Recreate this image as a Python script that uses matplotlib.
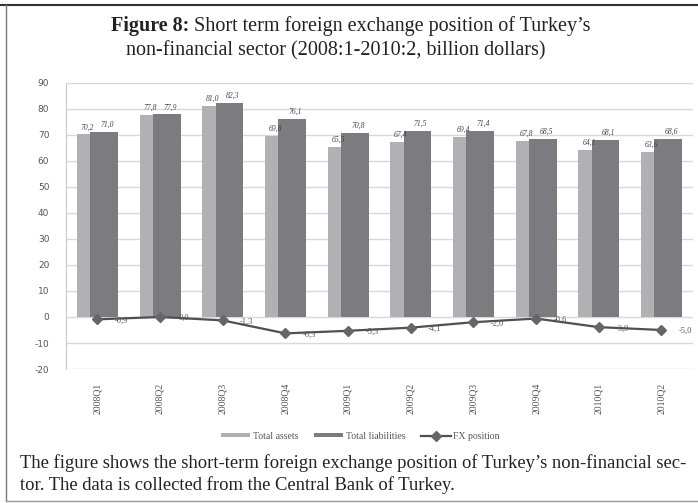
import matplotlib.pyplot as plt
import numpy as np
from matplotlib.lines import Line2D

# quarters and values (billion dollars)
quarters = ["2008Q1", "2008Q2", "2008Q3", "2008Q4", "2009Q1",
            "2009Q2", "2009Q3", "2009Q4", "2010Q1", "2010Q2"]
assets = [70.2, 77.8, 81.0, 69.8, 65.5, 67.4, 69.4, 67.8, 64.1, 63.6]
liabilities = [71.0, 77.9, 82.3, 76.1, 70.8, 71.5, 71.4, 68.5, 68.1, 68.6]
fx_position = [-0.9, 0.0, -1.3, -6.3, -5.3, -4.1, -2.0, -0.6, -3.9, -5.0]

plt.rcParams['axes.unicode_minus'] = False

def fmt(v):
    return f"{v:.1f}".replace(".", ",")

fig = plt.figure(figsize=(6.98, 5.03), dpi=100)
ax = fig.add_axes([0.0946, 0.2664, 0.898, 0.5686])

x = np.arange(len(quarters))
w = 0.44
off = 0.107
b1 = ax.bar(x - off, assets, w, color="#b1b1b5", label="Total assets", zorder=2)
b2 = ax.bar(x + off, liabilities, w, color="#7b7b80", label="Total liabilities", zorder=3)
ln, = ax.plot(x, fx_position, color="#505050", lw=1.6, marker="D", ms=5.5,
              mfc="#666666", mec="#666666", label="FX position", zorder=4)

for i in range(len(quarters)):
    ax.text(x[i] - off - 0.05, assets[i] + 1.2, fmt(assets[i]), fontsize=5.5,
            family="Liberation Serif", style="italic", color="#444444", ha="center", va="bottom", zorder=5)
    ax.text(x[i] + off + 0.05, liabilities[i] + 1.2, fmt(liabilities[i]), fontsize=5.5,
            family="Liberation Serif", style="italic", color="#444444", ha="center", va="bottom", zorder=5)
    ax.text(x[i] + 0.38, fx_position[i] - 0.5, fmt(fx_position[i]), fontsize=6,
            family="Liberation Serif", color="#555555", ha="center", va="center", zorder=5)

ax.set_xlim(-0.5, len(quarters) - 0.5)
ax.set_ylim(-20, 90)
ax.set_yticks(range(-20, 91, 10))
ax.yaxis.grid(True, color="#d9d9d9", lw=1.0, zorder=0)
ax.set_axisbelow(True)
for s in ["top", "right", "bottom"]:
    ax.spines[s].set_visible(False)
ax.spines["left"].set_color("#c8c8c8")
ax.tick_params(axis="both", length=0)
ax.tick_params(axis="y", labelsize=6.5, labelcolor="#555555", pad=12)
ax.set_xticks(x)
ax.set_xticklabels(quarters, rotation=90, fontsize=7, family="Liberation Serif", color="#555555")
ax.tick_params(axis="x", pad=10)

ax.legend(handles=[b1, b2, ln], loc="center", bbox_to_anchor=(0.47, -0.235), ncol=3, frameon=False,
          prop={"family": "Liberation Serif", "size": 7}, handlelength=3, handleheight=0.3,
          columnspacing=1.6, handletextpad=0.3, labelcolor="#555555")

fig.text(0.5, 0.948, r"$\mathbf{Figure\ 8:}$", fontsize=1, alpha=0)
fig.text(0.271, 0.948, "Figure 8:", fontsize=14.5, family="Liberation Serif", weight="bold",
         ha="right", va="center", color="#222222")
fig.text(0.271, 0.948, " Short term foreign exchange position of Turkey\u2019s", fontsize=14.5,
         family="Liberation Serif", ha="left", va="center", color="#222222")
fig.text(0.481, 0.9, "non-financial sector (2008:1-2010:2, billion dollars)", fontsize=14.5,
         family="Liberation Serif", ha="center", va="center", color="#222222")

fig.text(0.029, 0.08, "The figure shows the short-term foreign exchange position of Turkey\u2019s non-financial sec-",
         fontsize=13.4, family="Liberation Serif", ha="left", va="center", color="#222222")
fig.text(0.029, 0.036, "tor. The data is collected from the Central Bank of Turkey.",
         fontsize=13.4, family="Liberation Serif", ha="left", va="center", color="#222222")

# page frame
fig.add_artist(Line2D([0, 1], [0.99, 0.99], transform=fig.transFigure, color="#333333", lw=1.5))
fig.add_artist(Line2D([0.008, 0.008], [0.003, 0.99], transform=fig.transFigure, color="#777777", lw=1.0))
fig.add_artist(Line2D([0.008, 1], [0.004, 0.004], transform=fig.transFigure, color="#999999", lw=1.0))

fig.savefig("out.png", dpi=100)
